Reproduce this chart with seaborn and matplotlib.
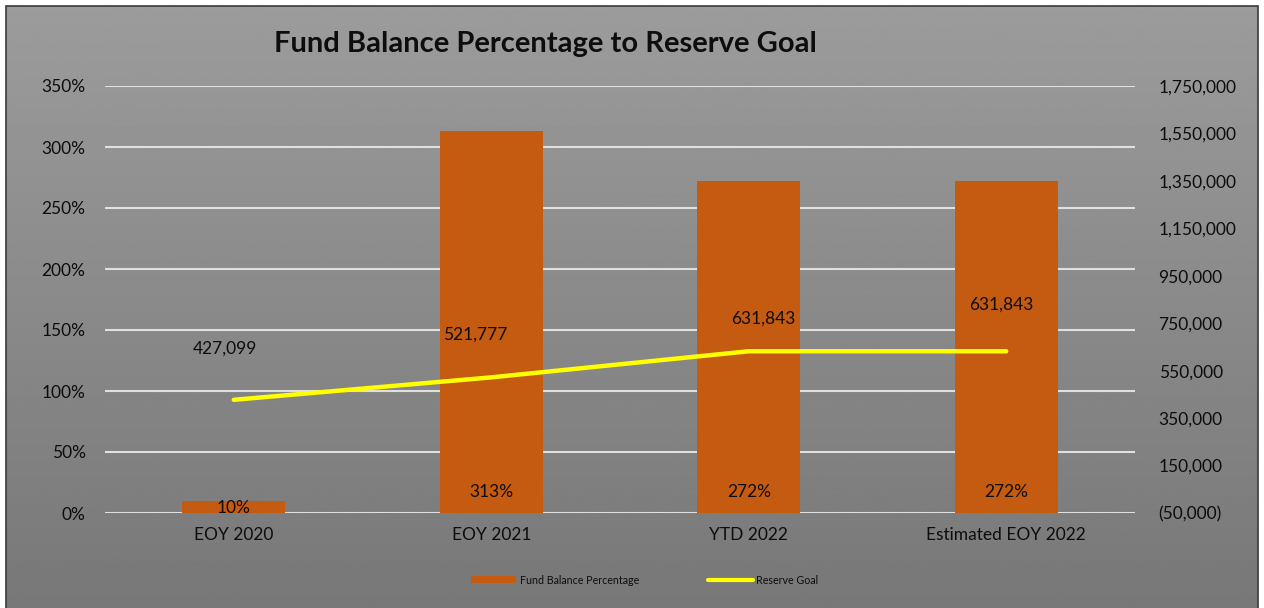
import matplotlib
matplotlib.use("Agg")
import matplotlib.pyplot as plt
import matplotlib.ticker as mticker
from matplotlib.patches import Rectangle, Patch
from matplotlib.lines import Line2D
import numpy as np
import pandas as pd
import seaborn as sns

# data
periods = ["EOY 2020", "EOY 2021", "YTD 2022", "Estimated EOY 2022"]
fund_pct = [10, 313, 272, 272]
reserve_goal = [427099, 521777, 631843, 631843]

sns.set_style("white")
plt.rcParams["font.family"] = ["Lato", "DejaVu Sans"]

BAR = "#c55a11"
LINE = "#ffff00"
TXT = "#0d0d0d"

df = pd.DataFrame({"period": periods, "pct": fund_pct, "goal": reserve_goal,
                   "pos": np.arange(len(periods))})

fig = plt.figure(figsize=(12.64, 6.08), dpi=100)
fig.patch.set_facecolor("white")

# gradient gray background behind everything
bg = fig.add_axes([6 / 1264, 0, 1252 / 1264, 602 / 608], zorder=-5)
grad = np.linspace(0.61, 0.47, 256).reshape(-1, 1)
bg.imshow(grad, aspect="auto", cmap="gray", vmin=0, vmax=1, extent=[0, 1, 0, 1])
bg.set_axis_off()
fig.add_artist(Rectangle((6 / 1264, -0.01), 1252 / 1264, 602 / 608 + 0.01,
                         transform=fig.transFigure, fill=False,
                         edgecolor="#3a3a3a", linewidth=1.2))

ax = fig.add_axes([105 / 1264, 95 / 608, 1030 / 1264, 427 / 608])
ax.set_facecolor("none")
sns.barplot(data=df, x="period", y="pct", color=BAR, width=0.4, saturation=1,
            edgecolor="none", linewidth=0, ax=ax, zorder=3)
ax.set_xlim(-0.5, 3.5)
ax.set_ylim(0, 350)
ax.set_yticks(range(0, 351, 50))
ax.yaxis.set_major_formatter(mticker.FuncFormatter(lambda v, p: f"{v:.0f}%"))
ax.yaxis.grid(True, color="#e0e0e0", linewidth=1.5, zorder=0)
ax.set_axisbelow(True)
ax.set_xlabel("")
ax.set_ylabel("")
ax.tick_params(axis="y", length=0, pad=14, labelsize=12.5, labelcolor=TXT)
ax.tick_params(axis="x", length=0, pad=10, labelsize=12.5, labelcolor=TXT)
for s in ax.spines.values():
    s.set_visible(False)

# bar labels at the base of each bar
for i, v in enumerate(fund_pct):
    off = 21 if v > 50 else 5
    ax.annotate(f"{v}%", (i, 0), xytext=(0, off), textcoords="offset pixels",
                ha="center", va="center", fontsize=12.5, color=TXT, zorder=5)

ax2 = ax.twinx()
sns.lineplot(data=df, x="pos", y="goal", color=LINE, linewidth=3.2, ax=ax2,
             solid_capstyle="round")
ax2.set_ylim(-50000, 1750000)
ax2.set_yticks(range(-50000, 1750001, 200000))
ax2.yaxis.set_major_formatter(mticker.FuncFormatter(
    lambda v, p: f"({abs(v):,.0f})" if v < 0 else f"{v:,.0f}"))
ax2.set_xlim(-0.5, 3.5)
ax2.set_xlabel("")
ax2.set_ylabel("")
ax2.grid(False)
ax2.tick_params(axis="y", length=0, pad=17, labelsize=12.5, labelcolor=TXT)
for s in ax2.spines.values():
    s.set_visible(False)

# line value labels (manually nudged like the original), offsets in pixels
label_nudge = [(-9, 51), (-16, 43), (15, 33), (-5, 47)]
for i, v in enumerate(reserve_goal):
    dx, dy = label_nudge[i]
    ax2.annotate(f"{v:,}", (i, v), xytext=(dx, dy), textcoords="offset pixels",
                 ha="center", va="center", fontsize=12.5, color=TXT)

fig.text(545 / 1264, 1 - 44 / 608, "Fund Balance Percentage to Reserve Goal",
         ha="center", va="center", fontsize=21, fontweight="bold", color=TXT)

handles = [Patch(facecolor=BAR, edgecolor="none"),
           Line2D([0], [0], color=LINE, linewidth=3)]
fig.legend(handles, ["Fund Balance Percentage", "Reserve Goal"], ncol=2,
           loc="center", bbox_to_anchor=(645 / 1264, 1 - 580 / 608),
           frameon=False, fontsize=7.7, handlelength=4.2, handleheight=0.6,
           columnspacing=6.5, handletextpad=0.3, labelcolor=TXT)

fig.savefig("out.png", dpi=100, facecolor=fig.get_facecolor())
